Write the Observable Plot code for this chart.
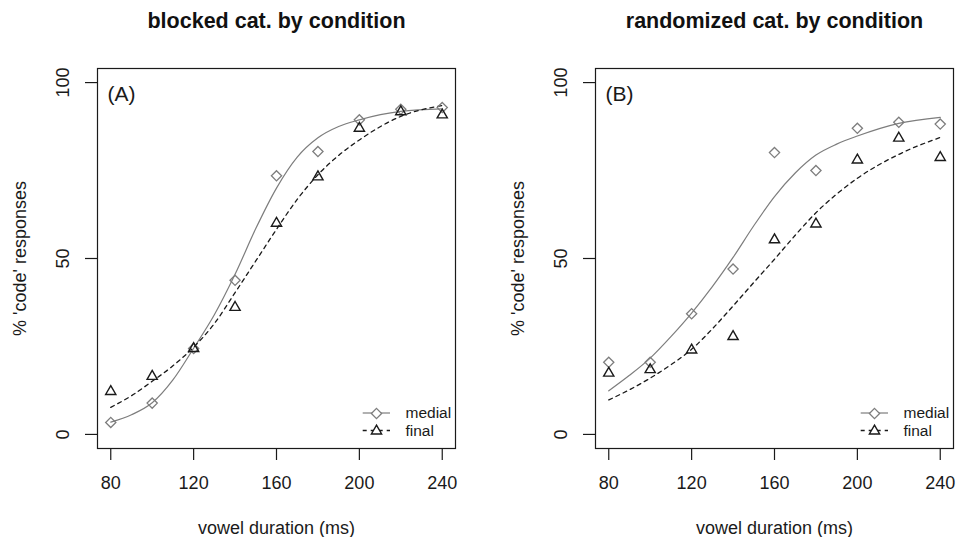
<!DOCTYPE html>
<html><head><meta charset="utf-8">
<script src="https://cdn.jsdelivr.net/npm/d3@7"></script>
<script src="https://cdn.jsdelivr.net/npm/@observablehq/plot@0.6"></script>
<style>
body{margin:0;background:#fff;}
#wrap{display:flex;width:956px;height:537px;overflow:hidden;}
</style></head><body><div id="wrap"></div>
<script>
// ---- data ----
const durations = [80, 100, 120, 140, 160, 180, 200, 220, 240];
const blockedMedial = [3.4, 8.9, 24.4, 43.8, 73.5, 80.4, 89.4, 92.4, 92.9];
const blockedFinal  = [12.2, 16.5, 24.4, 36.1, 60.0, 73.2, 87.0, 91.7, 90.8];
const randomMedial  = [20.5, 20.5, 34.3, 47.0, 80.1, 75.0, 87.0, 88.7, 88.2];
const randomFinal   = [17.4, 18.4, 24.0, 27.8, 55.3, 59.8, 78.0, 84.2, 78.7];

// fitted curves
const fitX = [80, 90, 100, 110, 120, 130, 140, 150, 160, 170, 180, 190, 200, 220, 240];
const blockedMedialFit = [3.5, 5.6, 9.0, 15.5, 24.5, 34.0, 45.5, 58.5, 70.0, 78.8, 84.3, 87.5, 89.4, 91.8, 92.5];
const blockedFinalFit  = [7.7, 11.0, 15.1, 19.5, 24.8, 31.5, 40.3, 49.3, 58.3, 66.8, 73.8, 79.3, 83.7, 90.4, 93.5];
const randomMedialFit  = [12.4, 16.8, 21.7, 27.8, 34.5, 42.0, 50.3, 59.3, 67.6, 74.3, 79.4, 82.5, 84.8, 88.4, 90.1];
const randomFinalFit   = [9.8, 12.7, 16.0, 19.8, 24.2, 30.0, 36.5, 43.2, 49.8, 56.6, 63.0, 68.3, 72.8, 79.6, 84.4];

const xTicks = [80, 120, 160, 200, 240];
const yTicks = [0, 50, 100];
const titles = ["blocked cat. by condition", "randomized cat. by condition"];
const panelTags = ["(A)", "(B)"];
const seriesNames = ["medial", "final"];
const xLabel = "vowel duration (ms)";
const yLabel = "% 'code' responses";

const FONT = "'Liberation Sans', Arial, Helvetica, sans-serif";
const GREY = "#7d7d7d";
const INK = "#1a1a1a";

function panel(idx, medial, final, medialFit, finalFit, marginLeft, marginRight) {
  const pts = durations.map((d, i) => ({x: d, m: medial[i], f: final[i]}));
  const fit = fitX.map((d, i) => ({x: d, m: medialFit[i], f: finalFit[i]}));
  const plot = Plot.plot({
    width: 478, height: 537,
    marginLeft, marginRight, marginTop: 68, marginBottom: 89,
    style: {fontFamily: FONT, fontSize: "18px", background: "white", color: INK},
    x: {domain: [73.6, 246.4], axis: null},
    y: {domain: [-4, 104], axis: null},
    marks: [
      Plot.line(fit, {x: "x", y: "m", stroke: GREY, strokeWidth: 1.2, curve: "monotone-x"}),
      Plot.line(fit, {x: "x", y: "f", stroke: INK, strokeWidth: 1.3, strokeDasharray: "4,4", curve: "monotone-x"}),
      Plot.dot(pts, {x: "x", y: "m", symbol: "diamond2", r: 4.6, stroke: GREY, strokeWidth: 1.3, fill: "none"}),
      Plot.dot(pts, {x: "x", y: "f", symbol: "triangle", r: 3.8, stroke: INK, strokeWidth: 1.4, fill: "none"}),
      Plot.frame({stroke: INK, strokeWidth: 1.2}),
      Plot.axisX(xTicks, {tickSize: 12, tickFormat: () => "", label: null, stroke: INK, strokeWidth: 1.2}),
      Plot.axisY(yTicks, {tickSize: 12, tickFormat: () => "", label: null, stroke: INK, strokeWidth: 1.2}),
      Plot.text(xTicks, {x: d => d, text: d => String(d), frameAnchor: "bottom", dy: 35, lineAnchor: "middle", fontSize: 18, fill: INK}),
      Plot.text(yTicks, {y: d => d, text: d => String(d), frameAnchor: "left", dx: -34, rotate: -90, textAnchor: "middle", lineAnchor: "middle", fontSize: 18, fill: INK}),
      Plot.text([xLabel], {text: d => d, frameAnchor: "bottom", dy: 80, lineAnchor: "middle", fontSize: 18, fill: INK}),
      Plot.text([yLabel], {text: d => d, frameAnchor: "left", dx: -77, rotate: -90, textAnchor: "middle", lineAnchor: "middle", fontSize: 18, fill: INK}),
      Plot.text([titles[idx]], {text: d => d, frameAnchor: "top", dy: -47, lineAnchor: "middle", fontSize: 21.5, fontWeight: "bold", fill: "#111"}),
      Plot.text([panelTags[idx]], {text: d => d, frameAnchor: "top-left", dx: 10, dy: 26, textAnchor: "start", lineAnchor: "middle", fontSize: 21, fill: INK}),
      // legend symbols and labels
      Plot.dot([seriesNames[0]], {frameAnchor: "bottom-right", dx: -79, dy: -35, symbol: "diamond2", r: 4.6, stroke: GREY, strokeWidth: 1.3, fill: "white"}),
      Plot.dot([seriesNames[1]], {frameAnchor: "bottom-right", dx: -79, dy: -17.5, symbol: "triangle", r: 3.8, stroke: INK, strokeWidth: 1.4, fill: "white"}),
      Plot.text([seriesNames[0]], {text: d => d, frameAnchor: "bottom-right", dx: -50, dy: -35, textAnchor: "start", lineAnchor: "middle", fontSize: 15.5, fill: INK}),
      Plot.text([seriesNames[1]], {text: d => d, frameAnchor: "bottom-right", dx: -50, dy: -17.5, textAnchor: "start", lineAnchor: "middle", fontSize: 15.5, fill: INK})
    ]
  });
  // legend line samples placed from the plot's own scales
  const xr = plot.scale("x").range, yr = plot.scale("y").range;
  const R = xr[1], B = yr[0];
  const svg = d3.select(plot);
  const g = svg.insert("g", "g[aria-label='dot']");
  g.append("line").attr("x1", R - 92.3).attr("x2", R - 65).attr("y1", B - 35).attr("y2", B - 35)
    .attr("stroke", GREY).attr("stroke-width", 1.2);
  g.append("line").attr("x1", R - 92.3).attr("x2", R - 65).attr("y1", B - 17.5).attr("y2", B - 17.5)
    .attr("stroke", INK).attr("stroke-width", 1.3).attr("stroke-dasharray", "4,4");
  return plot;
}

const wrap = document.getElementById("wrap");
wrap.appendChild(panel(0, blockedMedial, blockedFinal, blockedMedialFit, blockedFinalFit, 97, 23));
wrap.appendChild(panel(1, randomMedial, randomFinal, randomMedialFit, randomFinalFit, 117, 3));
</script>
</body></html>
